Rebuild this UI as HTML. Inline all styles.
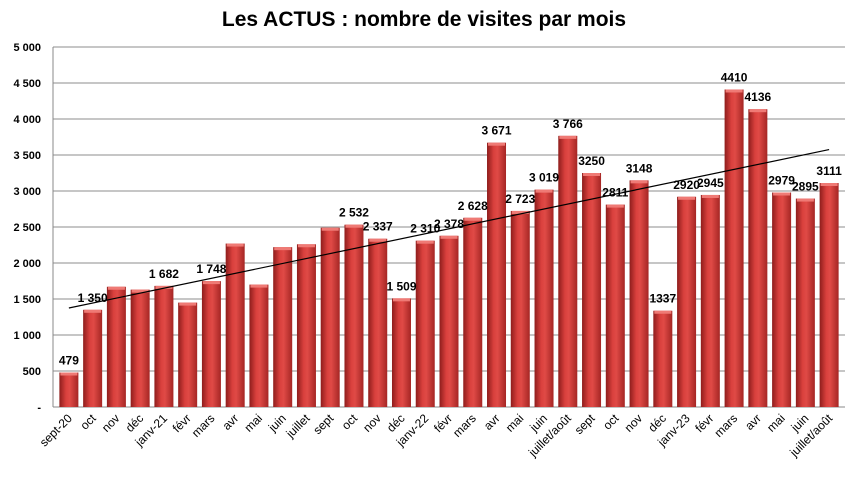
<!DOCTYPE html>
<html><head><meta charset="utf-8"><style>
body{margin:0;background:#fff;}
svg{display:block;font-family:"Liberation Sans Narrow","Liberation Sans",sans-serif;}
</style></head><body>
<svg id="chart" width="856" height="483" viewBox="0 0 856 483" xmlns="http://www.w3.org/2000/svg">
<defs>
<linearGradient id="barGrad" x1="0" y1="0" x2="1" y2="0">
<stop offset="0" stop-color="#8e1d1c"/>
<stop offset="0.35" stop-color="#d9403d"/>
<stop offset="0.55" stop-color="#e04a46"/>
<stop offset="1" stop-color="#a52624"/>
</linearGradient>
</defs>
<text x="424" y="26" text-anchor="middle" font-size="21" font-weight="bold" fill="#000">Les ACTUS : nombre de visites par mois</text>
<g id="grid"></g><g id="bars"></g><g id="trend"></g><g id="labels"></g><g id="xlabels"></g>
</svg>
<script>
const categories=["sept-20","oct","nov","déc","janv-21","févr","mars","avr","mai","juin","juillet","sept","oct","nov","déc","janv-22","févr","mars","avr","mai","juin","juillet/août","sept","oct","nov","déc","janv-23","févr","mars","avr","mai","juin","juillet/août"];
const visits=[479,1350,1670,1630,1682,1450,1748,2270,1700,2220,2260,2490,2532,2337,1509,2310,2378,2628,3671,2723,3019,3766,3250,2811,3148,1337,2920,2945,4410,4136,2979,2895,3111];
const valueLabels=["479","1 350","","","1 682","","1 748","","","","","","2 532","2 337","1 509","2 310","2 378","2 628","3 671","2 723","3 019","3 766","3250","2811","3148","1337","2920","2945","4410","4136","2979","2895","3111"];
const yTicks=[0,500,1000,1500,2000,2500,3000,3500,4000,4500,5000];
const yTickLabels=["-","500","1 000","1 500","2 000","2 500","3 000","3 500","4 000","4 500","5 000"];
const trendStart=1375, trendEnd=3575;

const NS="http://www.w3.org/2000/svg";
const x0=53,x1=845,yBase=407,yTop=47,yMax=5000;
const slot=(x1-x0-8)/categories.length;
const y=v=>yBase-(v/yMax)*(yBase-yTop);
const xc=i=>x0+4+slot*(i+0.5);
function mk(tag,attrs,parent){const e=document.createElementNS(NS,tag);for(const k in attrs)e.setAttribute(k,attrs[k]);parent.appendChild(e);return e;}
const grid=document.getElementById('grid');
yTicks.forEach((t,i)=>{
  const l=mk('line',{x1:x0,x2:x1,y1:y(t),y2:y(t),stroke:i===0?'#888':'#8c8c8c','stroke-width':1},grid);
  
  
  const tx=mk('text',{x:41,y:y(t)+4,'text-anchor':'end','font-size':11,'font-weight':'bold'},grid);
  tx.textContent=yTickLabels[i];
  
  
});
const ax=mk('line',{x1:x0,x2:x0,y1:yTop,y2:yBase,stroke:'#888'},grid);


const bars=document.getElementById('bars');
const bw=19;
visits.forEach((v,i)=>{
  const r=mk('rect',{x:xc(i)-bw/2,y:y(v),width:bw,height:yBase-y(v),fill:'url(#barGrad)'},bars);
  
  
  const cap=mk('rect',{x:xc(i)-bw/2+1,y:y(v),width:bw-2,height:3,fill:'#ef7a75'},bars);
  
  
  const tk=document.createElementNS(NS,'text');
  tk.setAttribute('transform','translate('+(xc(i)+4)+','+(yBase+12)+') rotate(-45)');
  tk.setAttribute('text-anchor','end');
  tk.setAttribute('font-size','12');
  tk.textContent=categories[i];
  
  
  document.getElementById('xlabels').appendChild(tk);
});
const tr=mk('line',{x1:xc(0),y1:y(trendStart),x2:xc(categories.length-1),y2:y(trendEnd),stroke:'#000','stroke-width':1.2},document.getElementById('trend'));


const labels=document.getElementById('labels');
valueLabels.forEach((s,i)=>{
  if(!s)return;
  const t=mk('text',{x:xc(i),y:y(visits[i])-8,'text-anchor':'middle','font-size':12,'font-weight':'bold'},labels);
  t.textContent=s;
  
  
});
</script>
</body></html>
